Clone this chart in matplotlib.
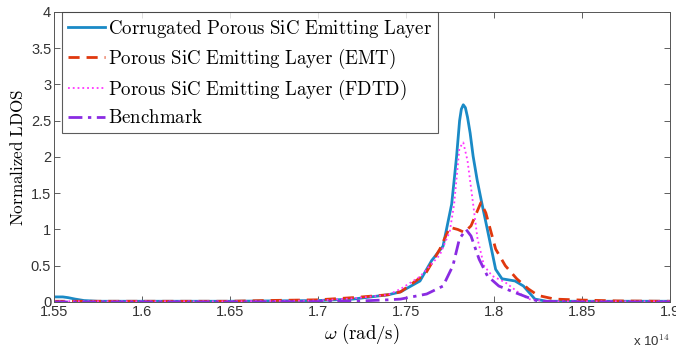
import matplotlib.pyplot as plt
import numpy as np

plt.rcParams['mathtext.fontset'] = 'cm'

# omega in units of 1e14 rad/s
x_corr = [1.55, 1.555, 1.558, 1.562, 1.567, 1.575, 1.6, 1.65, 1.7, 1.72, 1.73, 1.74,
          1.747, 1.758, 1.7646, 1.7711, 1.776, 1.7775, 1.7788, 1.7805, 1.7815,
          1.7826, 1.7838, 1.785, 1.7865, 1.7882, 1.7905, 1.793, 1.7963, 1.801,
          1.8046, 1.812, 1.8168, 1.8233, 1.83, 1.85, 1.9]
y_corr = [0.07, 0.07, 0.06, 0.04, 0.02, 0.01, 0.01, 0.01, 0.02, 0.04, 0.07, 0.1,
          0.14, 0.29, 0.57, 0.77, 1.35, 1.7, 2.01, 2.5, 2.66,
          2.72, 2.68, 2.55, 2.33, 2.01, 1.68, 1.38, 1.0, 0.45,
          0.32, 0.29, 0.22, 0.04, 0.01, 0.01, 0.01]

x_emt = [1.55, 1.6, 1.65, 1.67, 1.7, 1.72, 1.74, 1.747, 1.761, 1.7693, 1.7749,
         1.7795, 1.7832, 1.787, 1.7926, 1.7954, 1.801, 1.8065, 1.813, 1.8196,
         1.8251, 1.8345, 1.849, 1.87, 1.9]
y_emt = [0.01, 0.01, 0.01, 0.02, 0.03, 0.06, 0.1, 0.14, 0.385, 0.73, 1.03,
         1.0, 0.96, 1.05, 1.37, 1.23, 0.73, 0.5, 0.32, 0.18,
         0.09, 0.04, 0.027, 0.015, 0.01]

x_fdtd = [1.55, 1.6, 1.65, 1.7, 1.72, 1.74, 1.747, 1.758, 1.7693, 1.7749, 1.7774,
          1.7804, 1.7826, 1.785, 1.7882, 1.7907, 1.7944, 1.799, 1.8065, 1.814,
          1.8196, 1.83, 1.9]
y_fdtd = [0.01, 0.01, 0.01, 0.02, 0.05, 0.1, 0.18, 0.35, 0.65, 0.97, 1.35,
          2.12, 2.2, 1.95, 1.35, 0.87, 0.5, 0.36, 0.27, 0.13,
          0.04, 0.01, 0.01]

x_bench = [1.55, 1.6, 1.65, 1.7, 1.72, 1.74, 1.747, 1.7618, 1.7711, 1.7767, 1.7804,
           1.7842, 1.787, 1.7916, 1.7963, 1.8028, 1.812, 1.8196, 1.8251, 1.85, 1.9]
y_bench = [0.0, 0.0, 0.0, 0.005, 0.01, 0.03, 0.04, 0.11, 0.22, 0.5, 0.87,
           1.0, 0.91, 0.59, 0.36, 0.22, 0.13, 0.06, 0.01, 0.0, 0.0]

labels = [r'$\mathrm{Corrugated\ Porous\ SiC\ Emitting\ Layer}$',
          r'$\mathrm{Porous\ SiC\ Emitting\ Layer\ (EMT)}$',
          r'$\mathrm{Porous\ SiC\ Emitting\ Layer\ (FDTD)}$',
          r'$\mathrm{Benchmark}$']

fig = plt.figure(figsize=(6.76, 3.49), dpi=100)
ax = fig.add_axes([0.0799, 0.1347, 0.911, 0.831])

ax.plot(x_corr, y_corr, color='#1a8ac6', lw=2, label=labels[0])
ax.plot(x_emt, y_emt, color='#e0380e', lw=2, ls=(0, (4, 2.5)), label=labels[1])
ax.plot(x_fdtd, y_fdtd, color='#ff33ff', lw=1.3, ls=':', label=labels[2])
ax.plot(x_bench, y_bench, color='#8a2be2', lw=2, ls=(0, (5, 2, 1.2, 2)), label=labels[3])

ax.set_xlim(1.55, 1.9)
ax.set_ylim(0, 4)
ax.set_xticks(np.arange(1.55, 1.901, 0.05))
ax.set_xticklabels(['1.55', '1.6', '1.65', '1.7', '1.75', '1.8', '1.85', '1.9'])
ax.set_yticks(np.arange(0, 4.01, 0.5))
ax.set_yticklabels(['0', '0.5', '1', '1.5', '2', '2.5', '3', '3.5', '4'])
ax.tick_params(direction='in', top=True, right=True, length=4, width=0.6,
               colors='#444444', labelsize=10.5, labelcolor='#333333', pad=2)
for lab in ax.get_xticklabels() + ax.get_yticklabels():
    lab.set_family('Liberation Sans')
for s in ax.spines.values():
    s.set_color('#555555')
    s.set_linewidth(0.7)

ax.set_xlabel(r'$\omega\ \mathrm{(rad/s)}$', fontsize=13.5, labelpad=2)
ax.set_ylabel(r'$\mathrm{Normalized\ LDOS}$', fontsize=12.3, labelpad=3)
ax.text(1.0, -0.11, r'x 10$^{14}$', transform=ax.transAxes, ha='right', va='top',
        fontsize=9.5, color='#333333', family='Liberation Sans')

leg = ax.legend(loc='upper left', bbox_to_anchor=(0.013, 1.0), fontsize=13.6,
                frameon=True, fancybox=False, edgecolor='#333333',
                handlelength=2.0, handletextpad=0.15, borderpad=0.3,
                labelspacing=0.36, borderaxespad=0.0)
leg.get_frame().set_linewidth(0.8)

fig.savefig('out.png', dpi=100)
